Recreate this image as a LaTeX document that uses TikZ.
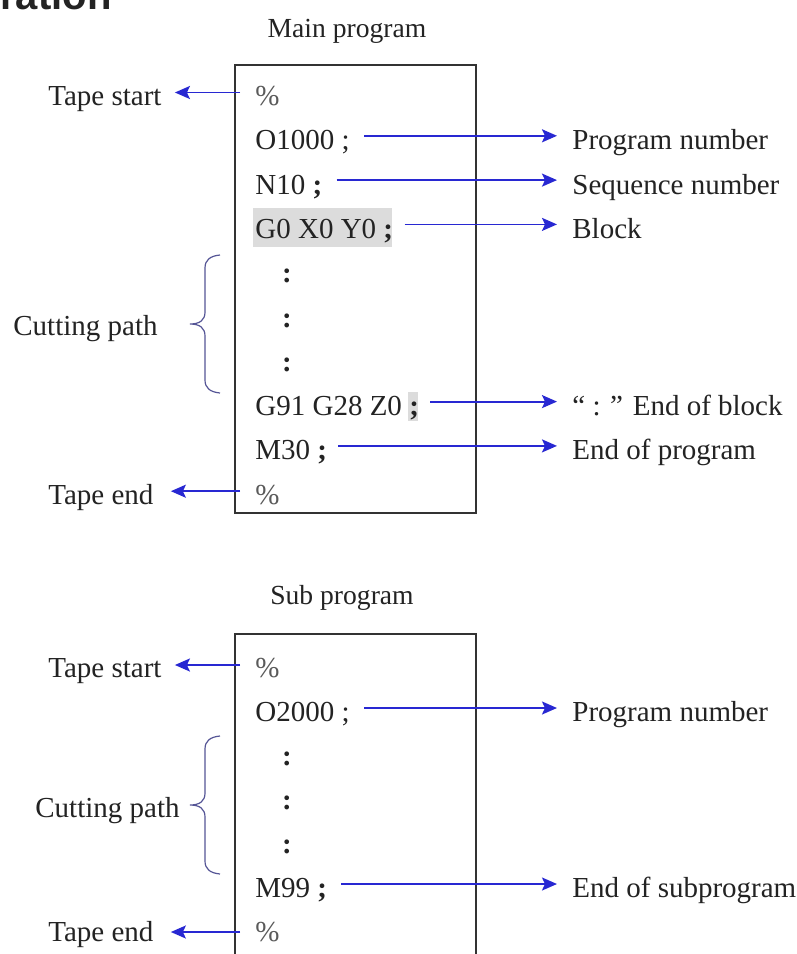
\documentclass[tikz,border=0pt]{standalone}
\usepackage{fontspec}
\setmainfont{Liberation Serif}
\newfontfamily\headfont{Liberation Sans}
\usetikzlibrary{arrows.meta,calc}
\definecolor{arrowblue}{RGB}{40,40,210}
\definecolor{bracecol}{RGB}{85,85,150}
\definecolor{hlgray}{RGB}{220,220,220}
\definecolor{txtcol}{RGB}{35,35,35}
\definecolor{pctcol}{RGB}{90,90,90}
\tikzset{
  txt/.style={inner sep=0pt, anchor=base west, text=txtcol, font=\fontsize{14.5}{17}\selectfont},
  pct/.style={txt, text=pctcol},
  ttl/.style={inner sep=0pt, anchor=base, text=txtcol, font=\fontsize{13.8}{16}\selectfont},
  colon/.style={inner sep=0pt, anchor=base, text=txtcol, font=\fontsize{14.5}{17}\selectfont\bfseries},
  arr/.style={draw=arrowblue, line width=0.9pt, -{Stealth[length=7.5pt,width=6.5pt,inset=1.5pt]}},
  boxline/.style={draw=black!80, line width=1pt},
  cbrace/.pic={\draw[bracecol, line width=0.6pt] (30,-69) .. controls (20,-68) and (15,-64) .. (15,-56) -- (15,-12) .. controls (15,-4) and (10,0) .. (0,0) .. controls (10,0) and (15,4) .. (15,12) -- (15,56) .. controls (15,64) and (20,68) .. (30,69);}
}
\begin{document}
\begin{tikzpicture}[x=0.5pt,y=-0.5pt]
\useasboundingbox (0,0) rectangle (797,954);
\clip (0,0) rectangle (797,954);
\fill[white] (0,0) rectangle (797,954);

% cut-off heading
\node[inner sep=0pt, anchor=base west, text=txtcol, font=\headfont\fontsize{20}{24}\selectfont\bfseries] (head) at (0,9) {ration};

% ---------- Main program ----------
\node[ttl] (maintitle) at (347,37) {Main program};
\draw[boxline] (235,65) rectangle (476,513);

\fill[hlgray] (253,208) rectangle (392,247);
\fill[hlgray] (408,392) rectangle (418,421);

\node[pct] (mp0) at (255,105.5) {\%};
\node[txt] (mp1) at (255,149.8) {O1000 ;};
\node[txt] (mp2) at (255,194.1) {N10 \textbf{;}};
\node[txt] (mp3) at (255,238.4) {G0 X0 Y0 \textbf{;}};
\node[colon] (md1) at (287,282.7) {:};
\node[colon] (md2) at (287,327) {:};
\node[colon] (md3) at (287,371.3) {:};
\node[txt] (mp7) at (255,415.6) {G91 G28 Z0 \textbf{;}};
\node[txt] (mp8) at (255,459.9) {M30 \textbf{;}};
\node[pct] (mp9) at (255,504.2) {\%};

\node[txt] (mts) at (48,105.5) {Tape start};
\node[txt] (mte) at (48,504.2) {Tape end};
\node[txt] (mcp) at (13,335) {Cutting path};
\pic at (190,324) {cbrace};

\node[txt] (mlpn) at (572,149.8) {Program number};
\node[txt] (mlsn) at (572,194.1) {Sequence number};
\node[txt] (mlbl) at (572,238.4) {Block};
\node[txt] (mleb) at (572,415.6) {“ : ” End of block};
\node[txt] (mlep) at (572,459.9) {End of program};

\draw[arr] ($(mp0.base west)+(-15,-13)$) -- ($(mts.base east)+(13,-13)$);
\draw[arr] ($(mp9.base west)+(-15,-13)$) -- ($(mte.base east)+(17,-13)$);
\draw[arr] ($(mp1.base east)+(14,-14)$) -- ($(mlpn.base west)+(-15,-14)$);
\draw[arr] ($(mp2.base east)+(14,-14)$) -- ($(mlsn.base west)+(-15,-14)$);
\draw[arr] ($(mp3.base east)+(11,-14)$) -- ($(mlbl.base west)+(-15,-14)$);
\draw[arr] ($(mp7.base east)+(11,-14)$) -- ($(mleb.base west)+(-15,-14)$);
\draw[arr] ($(mp8.base east)+(11,-14)$) -- ($(mlep.base west)+(-15,-14)$);

% ---------- Sub program ----------
\node[ttl] (subtitle) at (342,604) {Sub program};
\draw[boxline] (235,970) -- (235,634) -- (476,634) -- (476,970);

\node[pct] (sp0) at (255,677) {\%};
\node[txt] (sp1) at (255,721) {O2000 ;};
\node[colon] (sd1) at (287,765) {:};
\node[colon] (sd2) at (287,809) {:};
\node[colon] (sd3) at (287,853) {:};
\node[txt] (sp5) at (255,897) {M99 \textbf{;}};
\node[pct] (sp6) at (255,941) {\%};

\node[txt] (sts) at (48,677) {Tape start};
\node[txt] (ste) at (48,941) {Tape end};
\node[txt] (scp) at (35,817) {Cutting path};
\pic at (190,805) {cbrace};

\node[txt] (slpn) at (572,721) {Program number};
\node[txt] (slep) at (572,897) {End of subprogram};

\draw[arr] ($(sp0.base west)+(-15,-12)$) -- ($(sts.base east)+(13,-12)$);
\draw[arr] ($(sp6.base west)+(-15,-9)$) -- ($(ste.base east)+(17,-9)$);
\draw[arr] ($(sp1.base east)+(14,-13)$) -- ($(slpn.base west)+(-15,-13)$);
\draw[arr] ($(sp5.base east)+(14,-13)$) -- ($(slep.base west)+(-15,-13)$);
\end{tikzpicture}
\end{document}
